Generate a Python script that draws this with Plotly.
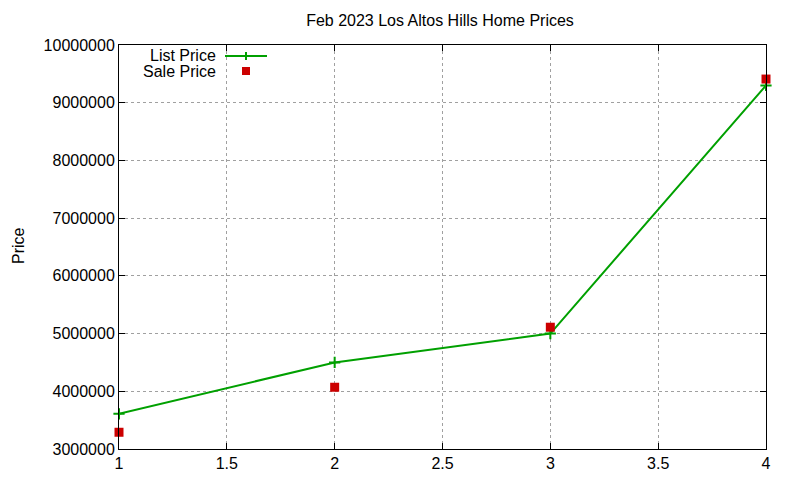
import plotly.graph_objects as go

x_vals = [1, 2, 3, 4]
list_price = [3610000, 4500000, 5000000, 9300000]
sale_price = [3290000, 4070000, 5110000, 9410000]
y_ticks = [3000000, 4000000, 5000000, 6000000, 7000000, 8000000, 9000000, 10000000]
x_ticks = [1, 1.5, 2, 2.5, 3, 3.5, 4]

GREEN = "#00a000"
RED = "#cc0000"
FONT = "Liberation Sans, Arial, sans-serif"

# page body has an 8px margin; compensate
OFF = 8
L, R, T, B = 119 - OFF, 34 + OFF, 45 - OFF, 31 + OFF
PW, PH = 800 - L - R, 480 - T - B


def px(xs):
    return (xs - OFF - L) / PW


def py(ys):
    return 1 - (ys - OFF - T) / PH


fig = go.Figure()
fig.add_trace(go.Scatter(
    x=x_vals, y=list_price, mode="lines+markers", name="List Price",
    line=dict(color=GREEN, width=2),
    marker=dict(symbol="cross-thin", size=8, line=dict(color=GREEN, width=2), color=GREEN),
    showlegend=False, cliponaxis=False,
))
fig.add_trace(go.Scatter(
    x=x_vals, y=sale_price, mode="markers", name="Sale Price",
    marker=dict(symbol="square", size=9, color=RED),
    showlegend=False, cliponaxis=False,
))

axis_common = dict(
    showgrid=True, gridcolor="#a0a0a0", griddash="dot", gridwidth=1,
    showline=True, linecolor="black", linewidth=1, mirror="ticks",
    ticks="inside", ticklen=6, tickcolor="black",
    tickfont=dict(family=FONT, size=16, color="black"),
    zeroline=False, automargin=False,
)

fig.update_layout(
    width=800, height=480,
    margin=dict(l=L, r=R, t=T, b=B),
    paper_bgcolor="white", plot_bgcolor="white",
    font=dict(family=FONT, color="black"),
    title=dict(text="Feb 2023 Los Altos Hills Home Prices", x=(440 - OFF) / 800, xanchor="center",
               y=1 - (20 - OFF) / 480, yanchor="middle", font=dict(family=FONT, size=16, color="black")),
    xaxis=dict(range=[1, 4], tickvals=x_ticks, ticktext=[str(t) for t in x_ticks], **axis_common),
    yaxis=dict(range=[3000000, 10000000], tickvals=y_ticks, tickformat="d", **axis_common),
)

# y-axis title
fig.add_annotation(
    xref="paper", yref="paper", x=px(18), y=py(246), text="Price", textangle=-90,
    showarrow=False, xanchor="center", yanchor="middle",
    font=dict(family=FONT, size=16, color="black"),
)

# Legend (gnuplot style: text left of sample)
legend_items = [("List Price", 55), ("Sale Price", 71)]
for name, ypix in legend_items:
    fig.add_annotation(
        xref="paper", yref="paper", x=px(218), y=py(ypix),
        text=name, showarrow=False, xanchor="right", yanchor="middle",
        font=dict(family=FONT, size=16, color="black"),
    )
fig.add_shape(type="line", xref="paper", yref="paper",
              x0=px(225), x1=px(267), y0=py(56), y1=py(56),
              line=dict(color=GREEN, width=2))
fig.add_shape(type="line", xref="paper", yref="paper",
              x0=px(246), x1=px(246), y0=py(52), y1=py(60),
              line=dict(color=GREEN, width=2))
fig.add_shape(type="rect", xref="paper", yref="paper",
              x0=px(242), x1=px(250), y0=py(67), y1=py(75),
              line=dict(width=0), fillcolor=RED)

fig.write_html("out.html")
